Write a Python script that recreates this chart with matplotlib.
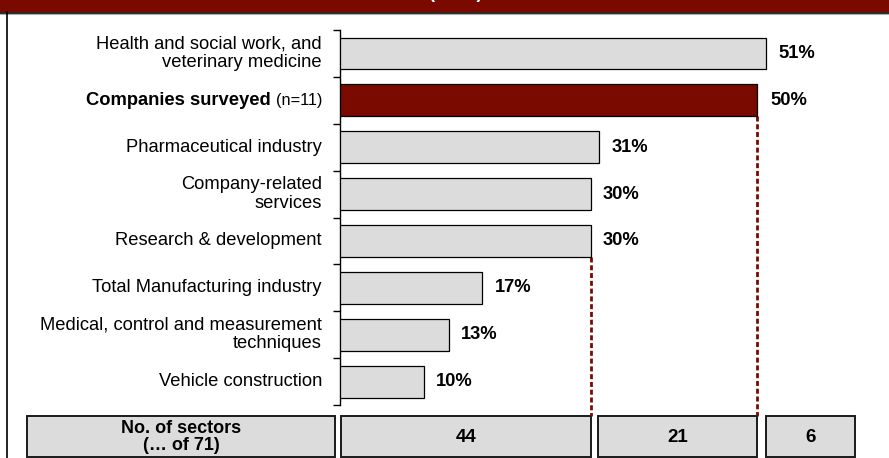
import matplotlib

matplotlib.use("Agg")
import matplotlib.pyplot as plt
from matplotlib.patches import Rectangle

plt.rcParams["font.family"] = ["Liberation Sans", "DejaVu Sans"]

# sectors, top to bottom
sectors = [
    "Health and social work, and\nveterinary medicine",
    "Companies surveyed",
    "Pharmaceutical industry",
    "Company-related\nservices",
    "Research & development",
    "Total Manufacturing industry",
    "Medical, control and measurement\ntechniques",
    "Vehicle construction",
]
shares = [51, 50, 31, 30, 30, 17, 13, 10]
highlight = 1
sample_note = "(n=11)"

# thresholds marked with dashed lines and the sector counts between them
thresholds = [30, 50]
count_header = "No. of sectors\n(… of 71)"
sector_counts = ["44", "21", "6"]

RED = "#7a0900"
GREY = "#dcdcdc"
W, H = 889, 458
FS = 13.2

fig = plt.figure(figsize=(W / 100, H / 100), dpi=100)
fig.patch.set_facecolor("white")

# pixel canvas for frame, header band and count table
canvas = fig.add_axes([0, 0, 1, 1])
canvas.set_xlim(0, W)
canvas.set_ylim(H, 0)
canvas.axis("off")

canvas.add_patch(Rectangle((0, 0), W, 12, facecolor=RED, edgecolor="none"))
canvas.plot([0, W], [12.5, 12.5], color="black", lw=1.2)
canvas.plot([0, W], [13.8, 13.8], color="#b0b0b0", lw=0.8)
canvas.plot([7, 7], [12, H], color="black", lw=1.2)
# header title runs off the top; only the parentheses' descenders show
canvas.text(455, -1.5, "(n=71)", color="white", fontsize=FS, fontweight="bold",
            ha="center", va="baseline")

# main bar chart: 0 % at x=340 px, 8.35 px per percentage point
ax = fig.add_axes([340 / W, (H - 405) / H, 62 * 8.35 / W, 375 / H])
ax.set_xlim(0, 62)
ax.set_ylim(len(sectors), 0)
ax.patch.set_alpha(0)

ypos = [i + 0.5 for i in range(len(sectors))]
colors = [RED if i == highlight else GREY for i in range(len(sectors))]
ax.barh(ypos, shares, height=0.68, color=colors, edgecolor="black", linewidth=0.9, zorder=3)

for i, (y, v) in enumerate(zip(ypos, shares)):
    ax.annotate(f"{v}%", xy=(v, y), xytext=(9, 0), textcoords="offset points",
                ha="left", va="center", fontsize=FS, fontweight="bold")
    if i == highlight:
        note = ax.annotate(sample_note, xy=(0, y), xycoords=("axes fraction", "data"),
                           xytext=(-13, 0), textcoords="offset points",
                           ha="right", va="center", fontsize=11.8)
        ax.annotate(sectors[i] + " ", xy=(0, 0.5), xycoords=note,
                    ha="right", va="center", fontsize=FS, fontweight="bold")
    else:
        ax.annotate(sectors[i], xy=(0, y), xycoords=("axes fraction", "data"),
                    xytext=(-13, 0), textcoords="offset points",
                    ha="right", va="center", fontsize=FS, linespacing=1.12)

# dashed guides from the threshold bars down to the count table
table_top = (416 - 30) / 46.875
for t in thresholds:
    idx = max(i for i, v in enumerate(shares) if v == t)
    ax.plot([t, t], [ypos[idx] + 0.34, table_top], color=RED, lw=2,
            linestyle=(0, (1.8, 1.0)), clip_on=False, zorder=2)

ax.set_yticks(range(len(sectors) + 1))
ax.set_yticklabels([])
ax.tick_params(axis="y", direction="out", length=5, width=1, color="black")
ax.set_xticks([])
for side in ("top", "right", "bottom"):
    ax.spines[side].set_visible(False)
ax.spines["left"].set_linewidth(1)

# count table
boxes = [(27, 335), (341, 591), (598, 757), (766, 855)]
for (x0, x1), label in zip(boxes, [count_header] + sector_counts):
    canvas.add_patch(Rectangle((x0, 416), x1 - x0, 40.5, facecolor=GREY,
                               edgecolor="#1a1a1a", linewidth=1.4))
    canvas.text((x0 + x1) / 2, 437, label, ha="center", va="center",
                fontsize=13.5 if label != count_header else 13, fontweight="bold",
                linespacing=0.95)

fig.savefig("out.png", dpi=100)
